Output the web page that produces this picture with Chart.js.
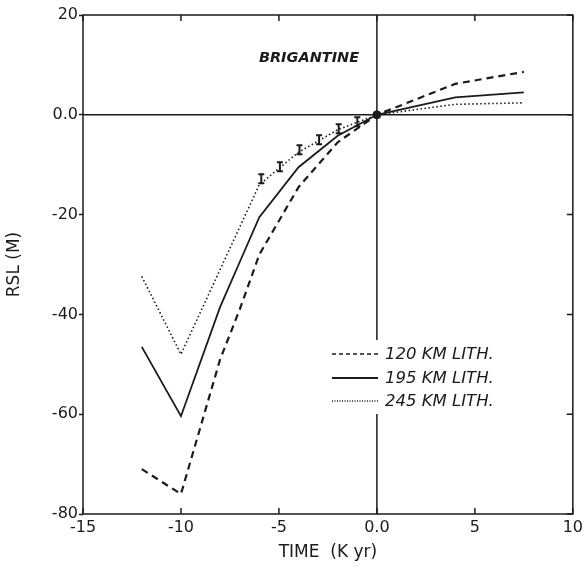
<!DOCTYPE html>
<html>
<head>
<meta charset="utf-8">
<script src="https://cdn.jsdelivr.net/npm/chart.js@4.4.1/dist/chart.umd.min.js"></script>
<style>
  html, body { margin: 0; padding: 0; background: #fff; }
  #wrap { width: 587px; height: 571px; }
</style>
</head>
<body>
<div id="wrap"><canvas id="rsl"></canvas></div>
<script>
// ---------- DATA ----------
const times = [-12, -10, -8, -7, -6, -4, -2, 0, 4, 7.5];
const rsl120 = [-71, -76, -49, -39, -28, -14.5, -5.5, 0, 6.2, 8.6];
const rsl195 = [-46.5, -60.4, -38.5, -29.5, -20.5, -10.5, -4.2, 0, 3.5, 4.5];
const rsl245 = [-32.4, -48, -31, -22.5, -14, -7.5, -3, 0, 2.1, 2.4];

const obsTime = [-5.9, -4.95, -3.95, -2.95, -1.95, -1, 0];
const obsRsl = [-12.8, -10.4, -7, -5, -2.8, -1.4, 0];
const obsErr = [0.9, 0.9, 0.9, 0.9, 0.9, 0.9, 0];

const xTicks = [-15, -10, -5, 0, 5, 10];
const yTicks = [20, 0, -20, -40, -60, -80];

const siteName = "BRIGANTINE";
const seriesNames = ["120 KM LITH.", "195 KM LITH.", "245 KM LITH."];

// ---------- STYLE ----------
const INK = "#1b1b1b";
const FONT = "'DejaVu Sans', sans-serif";

function pts(xs, ys) {
  return xs.map((x, i) => ({ x: x, y: ys[i] }));
}

// frame, zero lines and inward ticks
const framePlugin = {
  id: "frame",
  beforeDatasetsDraw(chart) {
    const { ctx, chartArea: a, scales } = chart;
    const x = scales.x, y = scales.y;
    ctx.save();
    ctx.strokeStyle = INK;
    ctx.lineWidth = 1.5;
    ctx.strokeRect(a.left, a.top, a.right - a.left, a.bottom - a.top);

    const x0 = x.getPixelForValue(0);
    const y0 = y.getPixelForValue(0);
    ctx.beginPath();
    ctx.moveTo(x0, a.top); ctx.lineTo(x0, a.bottom);
    ctx.moveTo(a.left, y0); ctx.lineTo(a.right, y0);
    ctx.stroke();

    // inward tick marks top / bottom / right
    ctx.beginPath();
    xTicks.forEach(v => {
      const px = x.getPixelForValue(v);
      ctx.moveTo(px, a.top); ctx.lineTo(px, a.top + 6);
      ctx.moveTo(px, a.bottom); ctx.lineTo(px, a.bottom - 6);
    });
    yTicks.forEach(v => {
      const py = y.getPixelForValue(v);
      ctx.moveTo(a.right, py); ctx.lineTo(a.right - 6, py);
    });
    ctx.stroke();
    ctx.restore();
  }
};

// error bars on observations
const errorBarPlugin = {
  id: "errorBars",
  afterDatasetsDraw(chart) {
    const { ctx, scales } = chart;
    ctx.save();
    ctx.strokeStyle = INK;
    ctx.lineWidth = 2;
    obsTime.forEach((t, i) => {
      if (!obsErr[i]) return;
      const px = scales.x.getPixelForValue(t);
      const pTop = scales.y.getPixelForValue(obsRsl[i] + obsErr[i]);
      const pBot = scales.y.getPixelForValue(obsRsl[i] - obsErr[i]);
      ctx.beginPath();
      ctx.moveTo(px, pTop); ctx.lineTo(px, pBot);
      ctx.moveTo(px - 3, pTop); ctx.lineTo(px + 3, pTop);
      ctx.moveTo(px - 3, pBot); ctx.lineTo(px + 3, pBot);
      ctx.stroke();
    });
    ctx.restore();
  }
};

// site label and legend inside the plot
const labelPlugin = {
  id: "labels",
  afterDatasetsDraw(chart) {
    const { ctx } = chart;
    ctx.save();
    ctx.fillStyle = INK;
    ctx.font = "italic bold 14.5px " + FONT;
    ctx.textAlign = "center";
    ctx.textBaseline = "middle";
    ctx.fillText(siteName, 309, 58);

    // legend
    const lx = 332, tx = 385, rowY = [354, 378, 401];
    ctx.fillStyle = "#fff";
    ctx.fillRect(326, 340, 195, 74);
    ctx.font = "italic 16.5px " + FONT;
    ctx.textAlign = "left";
    chart.data.datasets.slice(0, 3).forEach((ds, i) => {
      ctx.strokeStyle = INK;
      ctx.lineWidth = i === 1 ? 1.8 : 1.3;
      ctx.setLineDash(i === 0 ? [4, 3] : i === 2 ? [1, 1.5] : []);
      ctx.beginPath();
      ctx.moveTo(lx, rowY[i]); ctx.lineTo(lx + 46, rowY[i]);
      ctx.stroke();
      ctx.setLineDash([]);
      ctx.fillStyle = INK;
      ctx.fillText(ds.label, tx, rowY[i] + 1);
    });
    ctx.restore();
  }
};

const chart = new Chart(document.getElementById("rsl"), {
  type: "line",
  data: {
    datasets: [
      {
        label: seriesNames[0],
        data: pts(times, rsl120),
        borderColor: INK,
        borderWidth: 2.2,
        borderDash: [7, 5],
        pointRadius: 0,
        tension: 0,
        fill: false
      },
      {
        label: seriesNames[1],
        data: pts(times, rsl195),
        borderColor: INK,
        borderWidth: 1.8,
        pointRadius: 0,
        tension: 0,
        fill: false
      },
      {
        label: seriesNames[2],
        data: pts(times, rsl245),
        borderColor: INK,
        borderWidth: 1.6,
        borderDash: [1.5, 2.5],
        pointRadius: 0,
        tension: 0,
        fill: false
      },
      {
        label: "obs",
        data: pts(obsTime, obsRsl),
        showLine: false,
        pointRadius: obsErr.map(e => (e ? 0 : 4)),
        pointBackgroundColor: INK,
        pointBorderColor: INK
      }
    ]
  },
  options: {
    responsive: true,
    maintainAspectRatio: false,
    animation: false,
    events: [],
    layout: { padding: { top: 15, right: 11, left: 0, bottom: 0 } },
    plugins: {
      legend: { display: false },
      tooltip: { enabled: false }
    },
    scales: {
      x: {
        type: "linear",
        min: -15,
        max: 10,
        afterBuildTicks: s => { s.ticks = xTicks.map(v => ({ value: v })); },
        afterFit: s => { s.height = 57; },
        ticks: {
          color: INK,
          font: { family: FONT, size: 16 },
          padding: 4,
          maxRotation: 0,
          callback: v => (v === 0 ? "0.0" : String(v))
        },
        grid: { drawOnChartArea: false, drawTicks: false },
        border: { display: false },
        title: {
          display: true,
          text: "TIME  (K yr)",
          color: INK,
          font: { family: FONT, size: 17 },
          padding: { top: 2, bottom: 8 }
        }
      },
      y: {
        min: -80,
        max: 20,
        afterBuildTicks: s => { s.ticks = yTicks.map(v => ({ value: v })); },
        afterFit: s => { s.width = 83; },
        ticks: {
          color: INK,
          font: { family: FONT, size: 16 },
          padding: 1,
          callback: v => (v === 0 ? "0.0" : String(v))
        },
        grid: { drawOnChartArea: false, drawTicks: true, tickLength: 4, tickColor: INK, tickWidth: 1.5 },
        border: { display: false },
        title: {
          display: true,
          text: "RSL (M)",
          color: INK,
          font: { family: FONT, size: 17 },
          padding: { top: 4, bottom: 0 }
        }
      }
    }
  },
  plugins: [framePlugin, errorBarPlugin, labelPlugin]
});
</script>
</body>
</html>
